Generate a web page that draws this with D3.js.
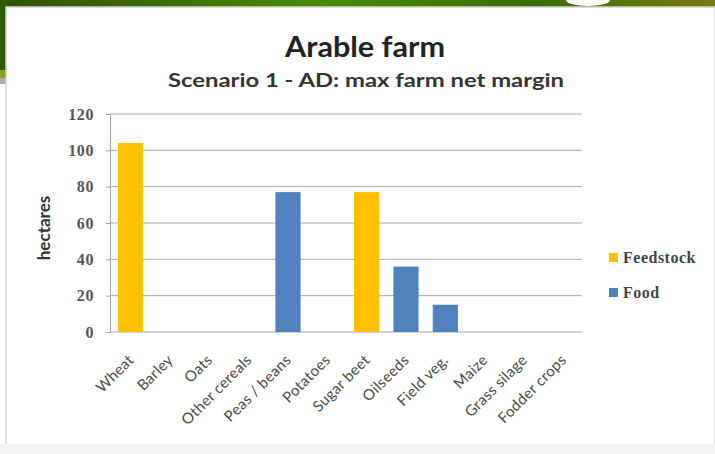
<!DOCTYPE html>
<html>
<head>
<meta charset="utf-8">
<script src="https://cdn.jsdelivr.net/npm/d3@7"></script>
<style>
  html, body { margin: 0; padding: 0; background: #fff; }
  svg { display: block; }
</style>
</head>
<body>
<svg id="chart" width="715" height="454"></svg>
<script>
// Crop areas (hectares) by use
const categories = ["Wheat", "Barley", "Oats", "Other cereals", "Peas / beans", "Potatoes",
                    "Sugar beet", "Oilseeds", "Field veg.", "Maize", "Grass silage", "Fodder crops"];
const feedstock = [104, 0, 0, 0, 0, 0, 77, 0, 0, 0, 0, 0];
const food      = [0, 0, 0, 0, 77, 0, 0, 36, 15, 0, 0, 0];
const yTicks = [0, 20, 40, 60, 80, 100, 120];
const seriesNames = ["Feedstock", "Food"];
const seriesColors = ["#FFC000", "#4F81BD"];

const svg = d3.select("#chart");

// Slide backdrop
const defs = svg.append("defs");
const topGrad = defs.append("linearGradient").attr("id", "topband");
topGrad.append("stop").attr("offset", "0%").attr("stop-color", "#2c5200");
topGrad.append("stop").attr("offset", "45%").attr("stop-color", "#4d8a06");
topGrad.append("stop").attr("offset", "75%").attr("stop-color", "#3b6d02");
topGrad.append("stop").attr("offset", "100%").attr("stop-color", "#7a7a12");
svg.append("rect").attr("x", 0).attr("y", 0).attr("width", 715).attr("height", 12).attr("fill", "url(#topband)");
svg.append("rect").attr("x", 0).attr("y", 0).attr("width", 8).attr("height", 70).attr("fill", "#2f5a00");
svg.append("rect").attr("x", 0).attr("y", 70).attr("width", 8).attr("height", 8).attr("fill", "#8aa21a");
svg.append("rect").attr("x", 0).attr("y", 78).attr("width", 8).attr("height", 6).attr("fill", "#9fb5b8");
svg.append("ellipse").attr("cx", 588).attr("cy", 0).attr("rx", 22).attr("ry", 6).attr("fill", "#ffffff");
svg.append("rect").attr("x", 6).attr("y", 7).attr("width", 709).attr("height", 440)
  .attr("fill", "#ffffff").attr("stroke", "#d2d2d2").attr("stroke-width", 1.5);
svg.append("rect").attr("x", 0).attr("y", 444).attr("width", 715).attr("height", 10).attr("fill", "#f1f1f1");

// Titles
svg.append("text").attr("x", 365).attr("y", 57).attr("text-anchor", "middle")
  .attr("font-family", "Lato, 'Open Sans', sans-serif").attr("font-weight", "bold")
  .attr("font-size", 28).attr("fill", "#222")
  .attr("textLength", 160).attr("lengthAdjust", "spacingAndGlyphs").text("Arable farm");
svg.append("text").attr("x", 366).attr("y", 87).attr("text-anchor", "middle")
  .attr("font-family", "Lato, 'Open Sans', sans-serif").attr("font-weight", "bold")
  .attr("font-size", 19).attr("fill", "#333")
  .attr("textLength", 396).attr("lengthAdjust", "spacingAndGlyphs").text("Scenario 1 - AD: max farm net margin");

// Plot area
const margin = { left: 110, right: 582, top: 114, bottom: 332 };
const x = d3.scaleBand().domain(categories).range([margin.left, margin.right]).paddingInner(0.36).paddingOuter(0.18);
const y = d3.scaleLinear().domain([0, 120]).range([margin.bottom, margin.top]);

// Gridlines
svg.append("g").selectAll("line").data(yTicks.filter(d => d > 0)).join("line")
  .attr("x1", margin.left).attr("x2", margin.right)
  .attr("y1", d => y(d)).attr("y2", d => y(d))
  .attr("stroke", "#a6a6a6").attr("stroke-width", 1);

// Y axis
const yAxis = svg.append("g").attr("transform", `translate(${margin.left},0)`)
  .call(d3.axisLeft(y).tickValues(yTicks).tickSize(4).tickPadding(12));
yAxis.select(".domain").attr("stroke", "#a6a6a6");
yAxis.selectAll(".tick line").attr("stroke", "#a6a6a6");
yAxis.selectAll(".tick text").attr("font-family", "'Liberation Serif', serif")
  .attr("font-weight", "bold").attr("font-size", 16).attr("letter-spacing", 0.6).attr("fill", "#555");

// X axis line
svg.append("line").attr("x1", margin.left).attr("x2", margin.right)
  .attr("y1", y(0)).attr("y2", y(0)).attr("stroke", "#a6a6a6");

// Bars: each category holds at most one non-zero series, drawn in the same slot
const rows = categories.map((c, i) => ({ cat: c, values: [feedstock[i], food[i]] }));
const barG = svg.append("g");
rows.forEach(r => {
  r.values.forEach((v, s) => {
    if (v > 0) {
      barG.append("rect")
        .attr("x", x(r.cat) + 1).attr("width", x.bandwidth())
        .attr("y", y(v)).attr("height", y(0) - y(v))
        .attr("fill", seriesColors[s]);
    }
  });
});

// Category labels
svg.append("g").selectAll("text").data(categories).join("text")
  .attr("transform", d => `translate(${x(d) + x.bandwidth() / 2 + 5},${y(0) + 29}) rotate(-45)`)
  .attr("text-anchor", "end")
  .attr("font-family", "Lato, 'Open Sans', sans-serif").attr("font-size", 15)
  .attr("letter-spacing", 0.3).attr("fill", "#4a4a4a").text(d => d);

// Y title
svg.append("text").attr("transform", `translate(50,228) rotate(-90)`)
  .attr("text-anchor", "middle").attr("font-family", "Lato, 'Open Sans', sans-serif")
  .attr("font-weight", "bold").attr("font-size", 17).attr("fill", "#333").text("hectares");

// Legend
const legend = svg.append("g");
seriesNames.forEach((n, i) => {
  const ly = 263 + i * 35;
  legend.append("rect").attr("x", 609).attr("y", ly - 10).attr("width", 9).attr("height", 9).attr("fill", seriesColors[i]);
  legend.append("text").attr("x", 623).attr("y", ly)
    .attr("font-family", "'Liberation Serif', serif").attr("font-weight", "bold")
    .attr("font-size", 16).attr("letter-spacing", 0.5).attr("fill", "#444").text(n);
});
</script>
</body>
</html>
